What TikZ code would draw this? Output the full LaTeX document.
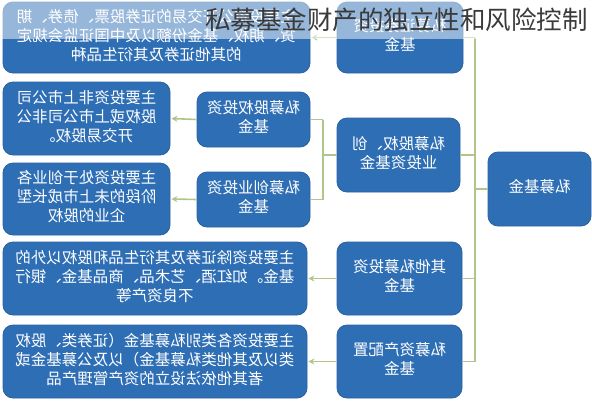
\documentclass[tikz,border=0pt]{standalone}
\usepackage{fontspec}
\usepackage{graphicx}
\newfontfamily\cjk{Noto Sans CJK SC}
\usetikzlibrary{arrows.meta}
\definecolor{boxblue}{HTML}{2E6EB5}
\definecolor{boxedge}{HTML}{2A62A2}
\definecolor{conncol}{HTML}{B0C58A}
\definecolor{titlecol}{HTML}{3A3A3A}
\newcommand{\mirtxt}[1]{\reflectbox{\begin{tabular}{@{}c@{}}#1\end{tabular}}}
\tikzset{
  fundbox/.style={draw=boxedge, line width=0.8pt, fill=boxblue, rounded corners=10pt,
    text=white, font=\cjk\fontsize{15.5}{19}\selectfont, inner sep=0pt, align=center},
  conn/.style={draw=conncol, line width=1.6pt},
  arr/.style={conn, -{Stealth[length=6pt,width=6pt]}, shorten >=1pt}
}
\begin{document}
\begin{tikzpicture}[x=1pt,y=-1pt]
\useasboundingbox (0,0) rectangle (592,400);
\fill[white] (0,0) rectangle (592,400);

% nodes
\node[fundbox, minimum width=307pt, minimum height=71pt] (t1) at (156.5,37.5)
  {\mirtxt{主要投资公开交易的证券股票、债券、期\\货、期权、基金份额以及中国证监会规定\\的其他证券及其衍生品种}};
\node[fundbox, minimum width=126pt, minimum height=71pt] (t2) at (400,37.5)
  {\mirtxt{私募证券投资\\基金}};
\node[fundbox, minimum width=167pt, minimum height=73pt] (a1) at (86.5,118.5)
  {\mirtxt{主要投资非上市公司\\股权或上市公司非公\\开交易股权。}};
\node[fundbox, minimum width=113pt, minimum height=55pt] (m1) at (253.5,119.5)
  {\mirtxt{私募股权投资\\基金}};
\node[fundbox, minimum width=167pt, minimum height=72pt] (a2) at (86.5,199)
  {\mirtxt{主要投资处于创业各\\阶段的未上市成长型\\企业的股权}};
\node[fundbox, minimum width=113pt, minimum height=55pt] (m2) at (253.5,199.5)
  {\mirtxt{私募创业投资\\基金}};
\node[fundbox, minimum width=123pt, minimum height=74pt] (pe) at (398.5,155)
  {\mirtxt{私募股权、创\\业投资基金}};
\node[fundbox, minimum width=103pt, minimum height=74pt] (root) at (539.5,189)
  {\mirtxt{私募基金}};
\node[fundbox, minimum width=125pt, minimum height=73pt] (o1) at (399.5,278.5)
  {\mirtxt{其他私募投资\\基金}};
\node[fundbox, minimum width=125pt, minimum height=73pt] (o2) at (399.5,361.5)
  {\mirtxt{私募资产配置\\基金}};
\node[fundbox, minimum width=304pt, minimum height=73pt] (l4) at (155,278.5)
  {\mirtxt{主要投资除证券及其衍生品和股权以外的\\基金。如红酒、艺术品、商品基金、银行\\不良资产等}};
\node[fundbox, minimum width=304pt, minimum height=73pt] (l5) at (155,361.5)
  {\mirtxt{主要投资各类别私募基金（证券类、股权\\类以及其他类私募基金）以及公募基金或\\者其他依法设立的资产管理产品}};

% trunk
\coordinate (tk) at (475,0);
\coordinate (bk) at (323,0);
\draw[conn] (root.west) -- (root.west -| tk);
\draw[conn] (t2.east -| tk) -- (o2.east -| tk);
\draw[conn] (t2.east) -- (t2.east -| tk);
\draw[conn] (pe.east) -- (pe.east -| tk);
\draw[conn] (o1.east) -- (o1.east -| tk);
\draw[conn] (o2.east) -- (o2.east -| tk);

% bracket of pe
\draw[conn] (pe.west) -- (pe.west -| bk);
\draw[conn] (m1.east -| bk) -- (m2.east -| bk);
\draw[conn] (m1.east -| bk) -- (m1.east);
\draw[conn] (m2.east -| bk) -- (m2.east);

% arrows
\draw[arr] (t2.west) -- (t1.east);
\draw[arr] (m1.west) -- (a1.east);
\draw[arr] (m2.west) -- (a2.east);
\draw[arr] (o1.west) -- (l4.east);
\draw[arr] (o2.west) -- (l5.east);

% translucent band and title
\fill[white, opacity=0.5] (0,0) rectangle (592,39);
\node[anchor=west, inner sep=0pt, text=titlecol, font=\cjk\fontsize{25.5}{28}\selectfont] (title) at (205,20)
  {私募基金财产的独立性和风险控制};
\end{tikzpicture}
\end{document}
